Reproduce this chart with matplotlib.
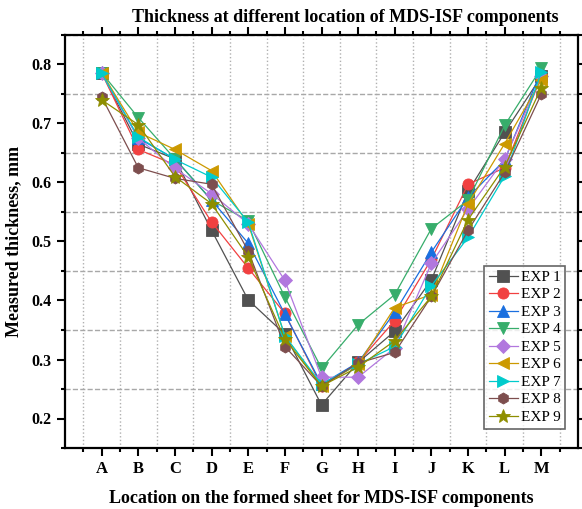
import numpy as np
import matplotlib
matplotlib.use("Agg")
import matplotlib.pyplot as plt
from matplotlib.ticker import MultipleLocator, FixedLocator

plt.rcParams['font.family'] = ['Liberation Serif', 'DejaVu Serif']

# ── Дані ──────────────────────────────────────────────
locations = ['A', 'B', 'C', 'D', 'E', 'F', 'G', 'H', 'I', 'J', 'K', 'L', 'M']

exp1 = [0.786, 0.665, 0.640, 0.519, 0.401, 0.343, 0.223, 0.295, 0.348, 0.435, 0.585, 0.685, 0.780]
exp2 = [0.786, 0.656, 0.630, 0.533, 0.455, 0.378, 0.255, 0.295, 0.366, 0.470, 0.597, 0.625, 0.780]
exp3 = [0.787, 0.675, 0.640, 0.570, 0.497, 0.377, 0.258, 0.295, 0.380, 0.482, 0.575, 0.638, 0.790]
exp4 = [0.786, 0.710, 0.640, 0.570, 0.535, 0.406, 0.285, 0.359, 0.410, 0.522, 0.570, 0.697, 0.794]
exp5 = [0.785, 0.675, 0.624, 0.581, 0.530, 0.434, 0.270, 0.270, 0.320, 0.463, 0.555, 0.640, 0.780]
exp6 = [0.786, 0.685, 0.656, 0.620, 0.530, 0.340, 0.255, 0.292, 0.388, 0.410, 0.564, 0.666, 0.774]
exp7 = [0.785, 0.677, 0.639, 0.609, 0.533, 0.340, 0.258, 0.292, 0.322, 0.425, 0.507, 0.611, 0.787]
exp8 = [0.745, 0.625, 0.607, 0.597, 0.484, 0.322, 0.255, 0.294, 0.312, 0.407, 0.519, 0.617, 0.750]
exp9 = [0.740, 0.698, 0.610, 0.564, 0.474, 0.335, 0.255, 0.287, 0.332, 0.407, 0.537, 0.627, 0.761]

series = [exp1, exp2, exp3, exp4, exp5, exp6, exp7, exp8, exp9]
names = ['EXP 1', 'EXP 2', 'EXP 3', 'EXP 4', 'EXP 5', 'EXP 6', 'EXP 7', 'EXP 8', 'EXP 9']

# палітра Origin
colors = ['#515151', '#F14040', '#1A6FDF', '#37AD6B', '#B177DE',
          '#CC9900', '#00CBCC', '#7D4E4E', '#8E8E00']
markers = ['s', 'o', '^', 'v', 'D', '<', '>', 'h', '*']
msizes = [8, 8, 8, 8, 7, 8, 8, 8, 10]

# ── Графік ────────────────────────────────────────────
fig = plt.figure(figsize=(5.82, 5.09), dpi=100)
ax = fig.add_axes([65 / 582, 1 - 448 / 509, 513 / 582, 413 / 509])

x = np.arange(1, len(locations) + 1)
for ys, name, col, mk, ms in zip(series, names, colors, markers, msizes):
    ax.plot(x, ys, color=col, linewidth=0.9, marker=mk, markersize=ms,
            markerfacecolor=col, markeredgecolor=col, markeredgewidth=0.6,
            label=name)

ax.set_xlim(0, 14)
ax.set_ylim(0.15, 0.85)
ax.set_xticks(x)
ax.set_xticklabels(locations, fontsize=12, fontweight='bold')
ax.xaxis.set_minor_locator(FixedLocator(np.arange(0.5, 14, 1.0)))
ax.yaxis.set_minor_locator(MultipleLocator(0.05))
ax.set_yticks(np.arange(0.2, 0.81, 0.1))
ax.set_yticklabels([f'{v:.1f}' for v in np.arange(0.2, 0.81, 0.1)],
                   fontsize=11.5, fontweight='bold')

ax.tick_params(which='both', direction='out', top=True, right=True,
               labeltop=False, labelright=False, width=1.5)
ax.tick_params(which='major', length=6)
ax.tick_params(which='minor', length=3)
for sp in ax.spines.values():
    sp.set_linewidth(1.6)

# сітка на проміжних поділках
ax.grid(False)
ax.grid(True, which='minor', axis='x', color='#b0b0b0', linestyle=':', linewidth=1.0)
ax.grid(True, which='minor', axis='y', color='#a8a8a8', linestyle='--', linewidth=1.0)
ax.set_axisbelow(True)

ax.set_xlabel('Location on the formed sheet for MDS-ISF components',
              fontsize=13, fontweight='bold', labelpad=9)
ax.set_ylabel('Measured thickness, mm', fontsize=13, fontweight='bold', labelpad=7)
fig.text(345 / 582, 1 - 17 / 509, 'Thickness at different location of MDS-ISF components',
         ha='center', va='center', fontsize=13, fontweight='bold')

leg = ax.legend(loc='lower right', bbox_to_anchor=(0.975, 0.047), fontsize=11,
                frameon=True, fancybox=False, edgecolor='#404040',
                handlelength=1.9, handletextpad=0.2, borderpad=0.3,
                labelspacing=0.25, borderaxespad=0)
leg.get_frame().set_linewidth(1.2)

fig.savefig('out.png', dpi=100)
